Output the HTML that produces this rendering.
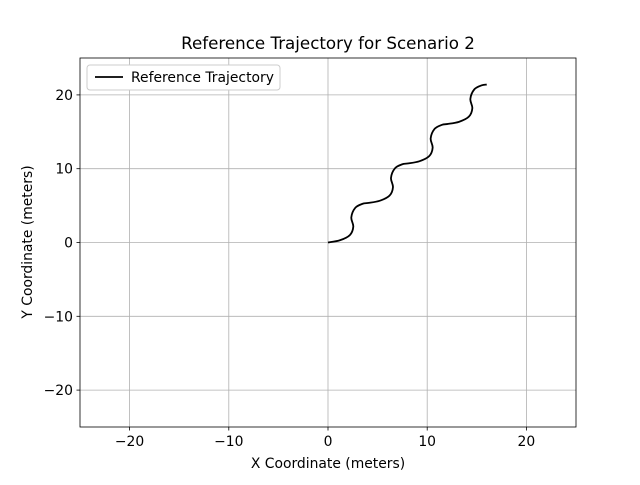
<!DOCTYPE html>
<html><head><meta charset="utf-8"><style>
body{margin:0;background:#fff;}
svg text{font-family:"DejaVu Sans","Liberation Sans",sans-serif;}
</style></head><body>
<svg id="chart" width="640" height="480" xmlns="http://www.w3.org/2000/svg">
<rect width="640" height="480" fill="#fff"/>
<g id="grid"></g>
<path id="traj" fill="none" stroke="#000" stroke-width="1.8" stroke-linejoin="round"/>
<rect x="80" y="58" width="496" height="369" fill="none" stroke="#000" stroke-width="0.8"/>
<g id="ticks"></g>
<text x="328" y="49" text-anchor="middle" font-size="16.7">Reference Trajectory for Scenario 2</text>
<text x="328" y="468" text-anchor="middle" font-size="13.9">X Coordinate (meters)</text>
<text x="32" y="242" text-anchor="middle" font-size="13.9" transform="rotate(-90 32 242)">Y Coordinate (meters)</text>
<g>
<rect x="87" y="65" width="193" height="25" rx="3" fill="#fff" stroke="#ccc" stroke-width="1"/>
<line x1="95" y1="77" x2="123" y2="77" stroke="#000" stroke-width="1.8"/>
<text x="131" y="82" font-size="13.9">Reference Trajectory</text>
</g>
</svg>
<script>
const xTicks=[-20,-10,0,10,20];
const yTicks=[-20,-10,0,10,20];
const trajX=[0,1.2,2.2,2.55,2.35,2.75,3.5, 4,5.2,6.2,6.55,6.35,6.75,7.5, 8,9.2,10.2,10.55,10.35,10.75,11.5, 12,13.2,14.2,14.55,14.35,14.75,15.5,16];
const trajY=[0,0.3,1.0,2.15,3.4,4.7,5.25, 5.35,5.65,6.35,7.5,8.75,10.05,10.6, 10.7,11.0,11.7,12.85,14.1,15.4,15.95, 16.05,16.35,17.05,18.2,19.45,20.75,21.3,21.4];
const sx=v=>80+(v+25)/50*496;
const sy=v=>427-(v+25)/50*369;
const NS='http://www.w3.org/2000/svg';
const grid=document.getElementById('grid'),ticks=document.getElementById('ticks');
function mk(tag,attrs,parent){const e=document.createElementNS(NS,tag);for(const k in attrs)e.setAttribute(k,attrs[k]);parent.appendChild(e);return e;}
xTicks.forEach(t=>{
 const x=sx(t);
 const g=mk('line',{x1:x,x2:x,y1:58,y2:427,stroke:'#b0b0b0','stroke-width':0.8},grid);
 
 
 const tk=mk('line',{x1:x,x2:x,y1:427,y2:430.5,stroke:'#000','stroke-width':0.8},ticks);
 
 
 const tx=mk('text',{x:x,y:446,'text-anchor':'middle','font-size':13.9},ticks);
 tx.textContent=(t<0?'\u2212'+(-t):t);
 
 
});
yTicks.forEach(t=>{
 const y=sy(t);
 const g=mk('line',{x1:80,x2:576,y1:y,y2:y,stroke:'#b0b0b0','stroke-width':0.8},grid);
 
 
 const tk=mk('line',{x1:76.5,x2:80,y1:y,y2:y,stroke:'#000','stroke-width':0.8},ticks);
 
 
 const tx=mk('text',{x:73,y:y+5,'text-anchor':'end','font-size':13.9},ticks);
 tx.textContent=(t<0?'\u2212'+(-t):t);
 
 
});
const P=trajX.map((v,i)=>[sx(v),sy(trajY[i])]);
let d='M'+P[0][0]+','+P[0][1];
for(let i=0;i<P.length-1;i++){
 const p0=P[Math.max(0,i-1)],p1=P[i],p2=P[i+1],p3=P[Math.min(P.length-1,i+2)];
 const c1=[p1[0]+(p2[0]-p0[0])/6,p1[1]+(p2[1]-p0[1])/6];
 const c2=[p2[0]-(p3[0]-p1[0])/6,p2[1]-(p3[1]-p1[1])/6];
 d+=` C${c1[0]},${c1[1]} ${c2[0]},${c2[1]} ${p2[0]},${p2[1]}`;
}
document.getElementById('traj').setAttribute('d',d);
</script>
</body></html>
